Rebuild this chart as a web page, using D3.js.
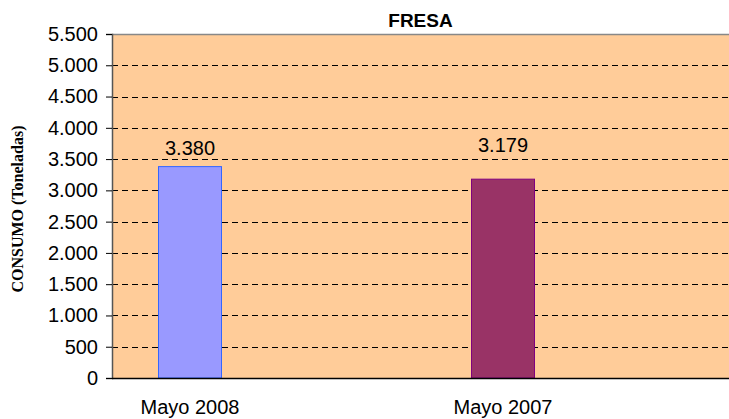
<!DOCTYPE html>
<html>
<head>
<meta charset="utf-8">
<script src="https://cdn.jsdelivr.net/npm/d3@7"></script>
<style>
  body { margin: 0; background: #fff; }
  svg { display: block; }
</style>
</head>
<body>
<div id="chart"></div>
<script>
// datos del grafico
const categories = ['Mayo 2008', 'Mayo 2007']
const values = [3380, 3179]
const barColors = ['#9999FF', '#993366']
const barStrokes = ['#3366FF', '#800080']
const yTicks = [0, 500, 1000, 1500, 2000, 2500, 3000, 3500, 4000, 4500, 5000, 5500]

const width = 729, height = 419
const plot = { left: 112, right: 729, top: 34, bottom: 378 }
const sans = 'Arial, "Liberation Sans", sans-serif'

let svg = d3.select('#chart').append('svg')
    .attr('width', width)
    .attr('height', height)

let y = d3.scaleLinear()
    .domain([0, 5500])
    .range([plot.bottom, plot.top])

let x = d3.scalePoint()
    .domain(categories)
    .range([190, 503])

const fmt = v => d3.format(',')(v).replace(/,/g, '.')

// fondo del area de trazado
svg.append('rect')
    .attr('x', plot.left)
    .attr('y', plot.top)
    .attr('width', plot.right - plot.left)
    .attr('height', plot.bottom - plot.top)
    .attr('fill', '#FFCC99')

// lineas de division
svg.append('g')
    .selectAll('line')
    .data(yTicks.filter(t => t > 0 && t < 5500))
    .join('line')
    .attr('x1', plot.left)
    .attr('x2', plot.right)
    .attr('y1', d => Math.round(y(d)) + 0.5)
    .attr('y2', d => Math.round(y(d)) + 0.5)
    .style('stroke', '#000')
    .style('stroke-width', 1)
    .style('stroke-dasharray', '6,4')

// borde superior
svg.append('line')
    .attr('x1', plot.left).attr('x2', plot.right)
    .attr('y1', plot.top + 0.5).attr('y2', plot.top + 0.5)
    .style('stroke', '#888')
    .style('stroke-width', 1.5)

// barras
svg.append('g')
    .selectAll('rect')
    .data(values)
    .join('rect')
    .attr('x', (d, i) => x(categories[i]) - 31.5)
    .attr('y', d => y(d))
    .attr('width', 63)
    .attr('height', d => plot.bottom - y(d))
    .attr('fill', (d, i) => barColors[i])
    .style('stroke', (d, i) => barStrokes[i])
    .style('stroke-width', 1)

// etiquetas de datos
svg.append('g')
    .selectAll('text')
    .data(values)
    .join('text')
    .attr('x', (d, i) => x(categories[i]))
    .attr('y', (d, i) => i === 0 ? y(d) - 12 : y(d) - 27)
    .text(d => fmt(d))
    .style('font-family', sans)
    .style('font-size', '20px')
    .style('text-anchor', 'middle')
    .attr('fill', '#000')

// eje Y
let yAxis = d3.axisLeft(y)
    .tickValues(yTicks)
    .tickSize(6)
    .tickPadding(8)
    .tickFormat(fmt)

let yAxisG = svg.append('g')
    .attr('transform', `translate(${plot.left}, 0)`)
    .call(yAxis)
yAxisG.select('.domain').style('stroke', '#555').style('stroke-width', 1.5)
yAxisG.selectAll('.tick line').style('stroke', '#000')
yAxisG.selectAll('.tick text')
    .style('font-family', sans)
    .style('font-size', '20px')
    .attr('fill', '#000')

// eje X
svg.append('line')
    .attr('x1', plot.left).attr('x2', plot.right)
    .attr('y1', plot.bottom + 0.5).attr('y2', plot.bottom + 0.5)
    .style('stroke', '#000')
    .style('stroke-width', 1.5)

svg.append('g')
    .selectAll('text')
    .data(categories)
    .join('text')
    .attr('x', d => x(d))
    .attr('y', 414)
    .text(d => d)
    .style('font-family', sans)
    .style('font-size', '20px')
    .style('text-anchor', 'middle')

// titulo
svg.append('text')
    .attr('x', (plot.left + plot.right) / 2)
    .attr('y', 27)
    .text('FRESA')
    .style('font-family', sans)
    .style('font-size', '19px')
    .style('font-weight', 'bold')
    .style('text-anchor', 'middle')

// titulo eje Y
svg.append('text')
    .attr('transform', 'translate (23, 209) rotate(-90)')
    .text('CONSUMO (Toneladas)')
    .style('font-family', '"Times New Roman", "Liberation Serif", serif')
    .style('font-size', '16px')
    .style('font-weight', 'bold')
    .style('text-anchor', 'middle')
</script>
</body>
</html>
